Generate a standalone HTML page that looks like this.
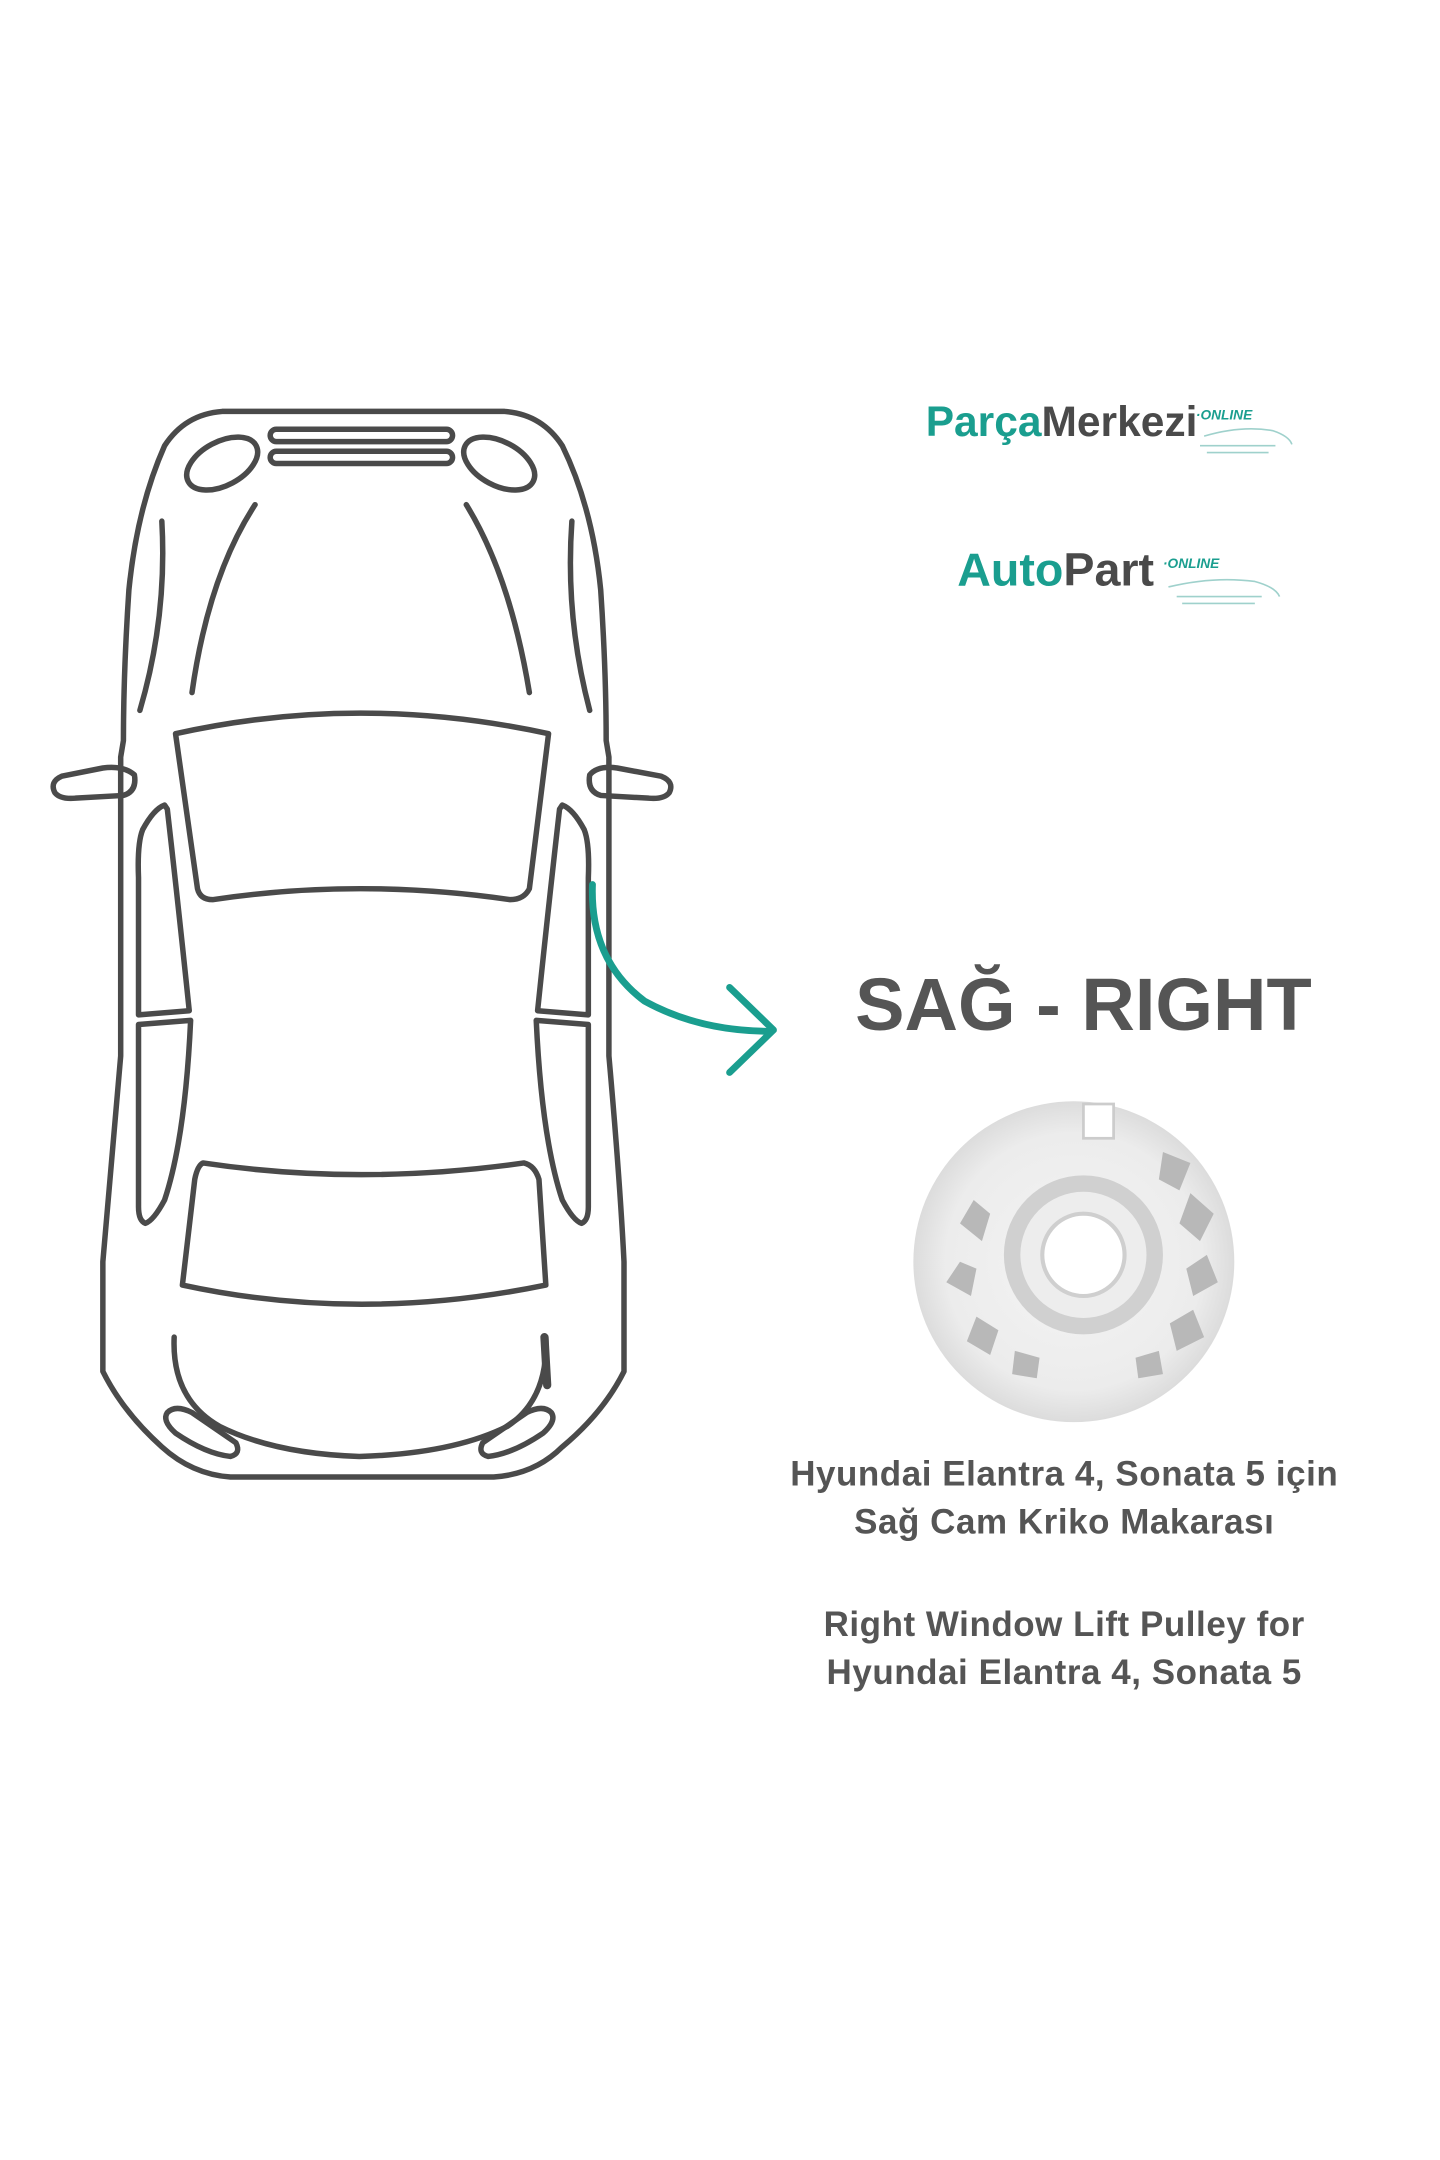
<!DOCTYPE html>
<html><head><meta charset="utf-8"><style>
html,body{margin:0;padding:0;background:#fff}
svg{display:block}
</style></head><body>
<svg width="1440" height="2160" viewBox="0 0 1050 1575" xmlns="http://www.w3.org/2000/svg">
<rect width="1050" height="1575" fill="#fff"/>
<g fill="none" stroke="#4a4a4a" stroke-width="4" stroke-linejoin="round" stroke-linecap="round">
<path d="M162,300 L368,300 Q395,302 410,325 Q432,370 438,430 Q442,490 442,540 L444,552 L444,640 L444,770 Q452,860 455,920 L455,1000 Q440,1030 410,1055 Q390,1075 360,1077 L168,1077 Q140,1075 118,1055 Q90,1030 75,1000 L75,920 Q80,860 88,770 L88,640 L88,552 L90,540 Q90,490 94,430 Q100,370 120,325 Q135,302 162,300 Z"/>
<ellipse cx="162" cy="338" rx="28" ry="16" transform="rotate(-28 162 338)"/>
<ellipse cx="364" cy="338" rx="28" ry="16" transform="rotate(28 364 338)"/>
<rect x="197" y="313" width="133" height="9" rx="4.5"/>
<rect x="197" y="329" width="133" height="9" rx="4.5"/>
<path d="M186,368 Q152,420 140,505"/>
<path d="M340,368 Q372,420 386,505"/>
<path d="M118,380 Q122,450 102,518"/>
<path d="M417,380 Q412,450 430,518"/>
<path d="M128,535 Q262,505 400,535 L386,648 Q382,656 372,656 Q262,640 155,656 Q146,656 144,648 Z"/>
<path d="M98,565 Q90,558 75,560 L45,566 Q36,570 40,578 Q44,583 55,582 L90,580 Q100,577 98,565 Z"/>
<path d="M430,565 Q436,558 450,560 L482,566 Q492,570 488,578 Q484,583 473,582 L438,580 Q428,577 430,565 Z"/>
<path d="M120,587 Q112,590 104,605 Q100,615 101,640 L101,740 L138,737 Q130,660 122,590 Z"/>
<path d="M101,747 L139,744 Q135,830 120,875 Q112,890 106,892 Q101,890 101,880 Z"/>
<path d="M410,587 Q418,590 426,605 Q430,615 429,640 L429,740 L392,737 Q400,660 408,590 Z"/>
<path d="M429,747 L391,744 Q395,830 410,875 Q418,890 424,892 Q429,890 429,880 Z"/>
<path d="M148,848 Q262,865 382,848 Q390,850 393,860 L398,937 Q262,965 133,937 L142,860 Q144,850 148,848 Z"/>
<path d="M127,975 Q125,1020 160,1040 Q200,1060 262,1062 Q330,1060 370,1040 Q400,1020 398,975"/>
<path d="M397,975 L399,1010" stroke-width="6"/>
<path d="M122,1030 Q128,1024 140,1030 L172,1052 Q176,1060 168,1062 Q150,1060 128,1045 Q118,1036 122,1030 Z"/>
<path d="M402,1030 Q396,1024 384,1030 L352,1052 Q348,1060 356,1062 Q374,1060 396,1045 Q406,1036 402,1030 Z"/>
</g>
<g fill="none" stroke="#1a9e8f" stroke-width="5" stroke-linecap="round" stroke-linejoin="round">
<path d="M432,645 Q430,700 470,730 Q510,752 562,752"/>
<path d="M532,720 L564,751 L532,782"/>
</g>
<g font-family="Liberation Sans, sans-serif" font-weight="bold">
<text x="675" y="318" font-size="31" fill="#1a9e8f">Parça<tspan fill="#4a4a4a">Merkezi</tspan></text>
<text x="872" y="306" font-size="10" font-style="italic" fill="#1a9e8f">·ONLINE</text>
<path d="M878,318 Q905,310 928,314 Q940,318 942,324 M875,325 L930,325 M880,330 L925,330" stroke="#9fd1cc" stroke-width="1.2" fill="none"/>
<text x="698" y="427" font-size="34" fill="#1a9e8f">Auto<tspan fill="#4a4a4a">Part</tspan></text>
<text x="848" y="414" font-size="10" font-style="italic" fill="#1a9e8f">·ONLINE</text>
<path d="M852,428 Q885,420 915,424 Q930,428 933,435 M858,435 L920,435 M862,440 L915,440" stroke="#9fd1cc" stroke-width="1.2" fill="none"/>
</g>
<text x="790" y="751" text-anchor="middle" font-family="Liberation Sans, sans-serif" font-weight="bold" font-size="54" fill="#555">SAĞ - RIGHT</text>
<defs>
<radialGradient id="pg" cx="0.5" cy="0.5" r="0.5">
<stop offset="0" stop-color="#f4f4f4"/><stop offset="0.8" stop-color="#ececec"/><stop offset="1" stop-color="#dcdcdc"/>
</radialGradient>
</defs>
<circle cx="783" cy="920" r="117" fill="url(#pg)"/>
<g fill="#b8b8b8">
<path d="M848,840 L868,848 L860,868 L845,860 Z"/>
<path d="M868,870 L885,885 L875,905 L860,892 Z"/>
<path d="M880,915 L888,935 L870,945 L865,925 Z"/>
<path d="M870,955 L878,975 L858,985 L853,965 Z"/>
<path d="M845,985 L848,1002 L830,1005 L828,990 Z"/>
<path d="M740,985 L738,1002 L756,1005 L758,990 Z"/>
<path d="M712,960 L705,978 L722,988 L728,970 Z"/>
<path d="M700,920 L690,935 L708,945 L712,925 Z"/>
<path d="M710,875 L700,892 L716,905 L722,885 Z"/>
</g>
<circle cx="790" cy="915" r="58" fill="#d0d0d0"/>
<circle cx="790" cy="915" r="46" fill="#ededed"/>
<circle cx="790" cy="915" r="30" fill="#fff" stroke="#cfcfcf" stroke-width="3"/>
<rect x="790" y="805" width="22" height="25" fill="#fff" stroke="#ccc" stroke-width="2"/>
<g font-family="Liberation Sans, sans-serif" font-weight="bold" font-size="25.5" fill="#555" text-anchor="middle" letter-spacing="0.4">
<text x="776" y="1083">Hyundai Elantra 4, Sonata 5 için</text>
<text x="776" y="1118">Sağ Cam Kriko Makarası</text>
<text x="776" y="1193">Right Window Lift Pulley for</text>
<text x="776" y="1228">Hyundai Elantra 4, Sonata 5</text>
</g>
</svg>
</body></html>
